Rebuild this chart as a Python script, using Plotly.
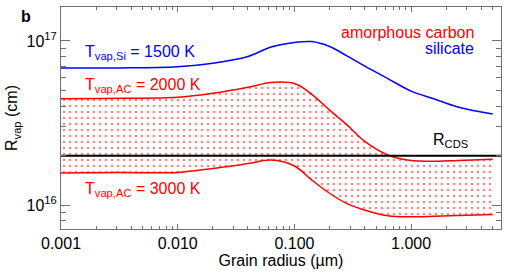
import plotly.graph_objects as go

# Grain radius (micron)
radius = [0.001, 0.00316, 0.01, 0.02, 0.04, 0.063, 0.1, 0.141, 0.2, 0.282,
          0.398, 0.631, 1.0, 1.585, 2.512, 5.0]

# Vaporisation radius (cm)
r_si_1500 = [6.84e16, 6.85e16, 6.97e16, 7.31e16, 8.04e16, 9.18e16, 9.79e16, 9.91e16,
             9.25e16, 8.11e16, 7.05e16, 5.90e16, 4.95e16, 4.43e16, 3.96e16, 3.59e16]
r_ac_2000 = [4.45e16, 4.47e16, 4.54e16, 4.80e16, 5.22e16, 5.58e16, 5.50e16, 4.73e16,
             3.79e16, 3.08e16, 2.45e16, 2.02e16, 1.87e16, 1.85e16, 1.87e16, 1.90e16]
r_ac_3000 = [1.57e16, 1.58e16, 1.58e16, 1.67e16, 1.79e16, 1.88e16, 1.73e16, 1.42e16,
             1.18e16, 1.02e16, 9.33e15, 8.61e15, 8.49e15, 8.55e15, 8.63e15, 8.77e15]
r_cds = 2.0e16
cds_x = [0.001, 10]

x_major = [0.001, 0.01, 0.1, 1.0]
x_major_text = ["0.001", "0.010", "0.100", "1.000"]
x_minor = [m * d for d in [0.001, 0.01, 0.1, 1.0] for m in range(2, 10) if m * d < 6]
y_major = [1e16, 1e17]
y_major_text = ["10<sup>16</sup>", "10<sup>17</sup>"]
y_minor = [8e15, 9e15] + [m * 1e16 for m in range(2, 10)]

FONT = "Liberation Sans, Arial, Helvetica, sans-serif"
RED = "#ff0000"
BLUE = "#0000ff"

fig = go.Figure()
fig.add_trace(go.Scatter(x=radius, y=r_ac_3000, mode="lines", line=dict(color=RED, width=1.5, shape="spline"),
                         showlegend=False, hoverinfo="skip"))
fig.add_trace(go.Scatter(x=radius, y=r_ac_2000, mode="lines", line=dict(color=RED, width=1.5, shape="spline"),
                         fill="tonexty", fillcolor="rgba(0,0,0,0)",
                         fillpattern=dict(shape=".", fgcolor=RED, bgcolor="white", size=6, solidity=0.12),
                         showlegend=False, hoverinfo="skip"))
fig.add_trace(go.Scatter(x=cds_x, y=[r_cds, r_cds], mode="lines", line=dict(color="black", width=2),
                         showlegend=False, hoverinfo="skip"))
fig.add_trace(go.Scatter(x=radius, y=r_si_1500, mode="lines", line=dict(color=BLUE, width=1.5, shape="spline"),
                         showlegend=False, hoverinfo="skip"))

AX = "#707070"
fig.update_xaxes(type="log", range=[-3, 0.77], tickvals=x_major, ticktext=x_major_text, automargin=False,
                 ticks="inside", ticklen=5, tickcolor=AX, showline=True, linecolor=AX, linewidth=1,
                 mirror="ticks", showgrid=False, zeroline=False,
                 minor=dict(tickvals=x_minor, ticks="inside", ticklen=3, tickcolor=AX, showgrid=False),
                 tickfont=dict(size=16, color="black", family=FONT),
                 title=dict(text="Grain radius (µm)", font=dict(size=16, color="black", family=FONT), standoff=2))
fig.update_yaxes(type="log", range=[15.854, 17.207], tickvals=y_major, ticktext=y_major_text, automargin=False,
                 ticks="inside", ticklen=9, tickcolor=AX, showline=True, linecolor=AX, linewidth=1,
                 mirror="ticks", showgrid=False, zeroline=False,
                 minor=dict(tickvals=y_minor, ticks="inside", ticklen=5, tickcolor=AX, showgrid=False),
                 tickfont=dict(size=16, color="black", family=FONT),
                 title=dict(text="R<sub>vap</sub> (cm)", font=dict(size=16, color="black", family=FONT), standoff=4))

def ann(text, x, y, color, xanchor="left", size=16, bold=False):
    fig.add_annotation(text=f"<b>{text}</b>" if bold else text, x=x, y=y, xref="paper", yref="paper",
                       xanchor=xanchor, yanchor="middle", showarrow=False,
                       font=dict(size=size, color=color, family=FONT))

ann("T<sub>vap,Si</sub> = 1500 K", 0.05, 0.795, BLUE)
ann("T<sub>vap,AC</sub> = 2000 K", 0.05, 0.645, RED)
ann("T<sub>vap,AC</sub> = 3000 K", 0.05, 0.18, RED)
ann("amorphous carbon", 0.943, 0.883, RED, xanchor="right")
ann("silicate", 0.943, 0.815, BLUE, xanchor="right")
ann("R<sub>CDS</sub>", 0.84, 0.40, "black")
ann("b", -0.095, 0.955, "black", bold=True)

fig.update_layout(width=511, height=275, margin=dict(l=61, r=10, t=7, b=46),
                  plot_bgcolor="white", paper_bgcolor="white", font=dict(family=FONT))
fig.write_html("out.html", config={"displayModeBar": False},
               post_script="document.body.style.margin='0px';")
